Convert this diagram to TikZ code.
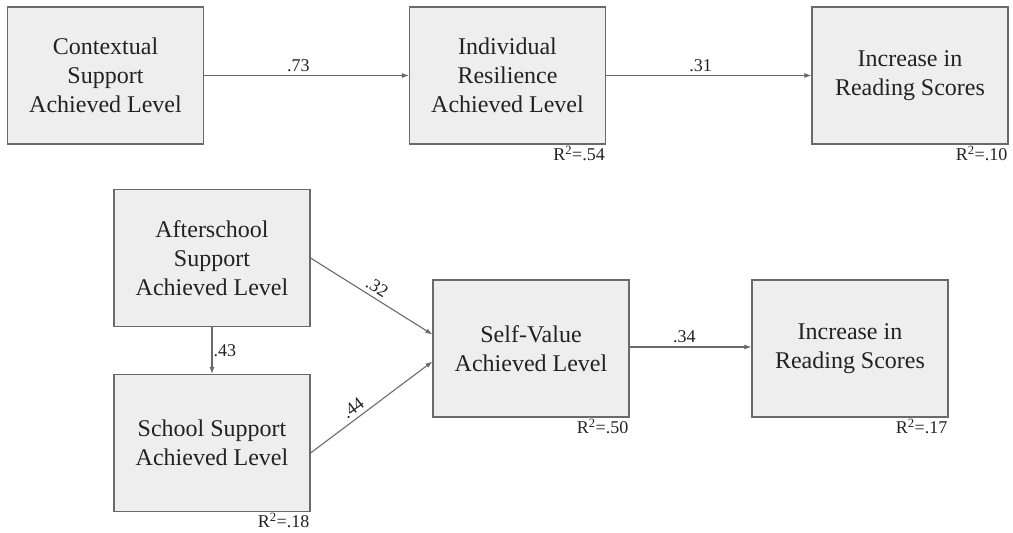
\documentclass[tikz,border=0pt]{standalone}
\usepackage{fontspec}
\setmainfont{Liberation Serif}
\usetikzlibrary{arrows.meta}
\definecolor{boxfill}{HTML}{EEEEEE}
\definecolor{boxline}{HTML}{6A6A6A}
\definecolor{arrowc}{HTML}{6A6A6A}
\definecolor{txt}{HTML}{222222}
\begin{document}
\begin{tikzpicture}[x=1pt,y=-1pt,
 box/.style={draw=boxline, fill=boxfill, line width=1.1pt, minimum width=196pt, minimum height=137pt, align=center, font=\fontsize{24}{29}\selectfont, text=txt, inner sep=0pt},
 conn/.style={draw=arrowc, line width=1.1pt, -{Latex[length=7pt,width=5pt]}},
 lbl/.style={font=\fontsize{18}{20}\selectfont, text=txt},
 rsq/.style={lbl, anchor=north east, inner sep=1pt}]
\useasboundingbox (0,0) rectangle (1013,533);
% top row
\node[box] (ctx) at (105.5,75.5) {Contextual\\Support\\Achieved Level};
\node[box] (ind) at (507.5,75.5) {Individual\\Resilience\\Achieved Level};
\node[box] (inc1) at (910,75.5) {Increase in\\Reading Scores};
\draw[conn] (ctx) -- node[lbl, above, pos=0.46] {.73} (ind);
\draw[conn] (ind) -- node[lbl, above, pos=0.46] {.31} (inc1);
\node[rsq] (r1) at (ind.south east) {R\textsuperscript{2}=.54};
\node[rsq] (r2) at (inc1.south east) {R\textsuperscript{2}=.10};
% bottom
\node[box] (aft) at (212,258) {Afterschool\\Support\\Achieved Level};
\node[box] (sch) at (212,443) {School Support\\Achieved Level};
\node[box] (sv) at (531,348.5) {Self-Value\\Achieved Level};
\node[box] (inc2) at (850,348.5) {Increase in\\Reading Scores};
\draw[conn] (aft.south) -- node[lbl, right, inner sep=1pt] {.43} (sch.north);
\draw[conn] (aft.east) -- node[lbl, above, sloped, pos=0.5, inner sep=4pt] {.32} ([yshift=14pt]sv.west);
\draw[conn] ([yshift=-10pt]sch.east) -- node[lbl, above, sloped, pos=0.4, inner sep=4pt] {.44} ([yshift=-13pt]sv.west);
\draw[conn] ([yshift=1.5pt]sv.east) -- node[lbl, above, pos=0.45] {.34} ([yshift=1.5pt]inc2.west);
\node[rsq] (r3) at (sch.south east) {R\textsuperscript{2}=.18};
\node[rsq] (r4) at (sv.south east) {R\textsuperscript{2}=.50};
\node[rsq] (r5) at (inc2.south east) {R\textsuperscript{2}=.17};
\end{tikzpicture}
\end{document}
